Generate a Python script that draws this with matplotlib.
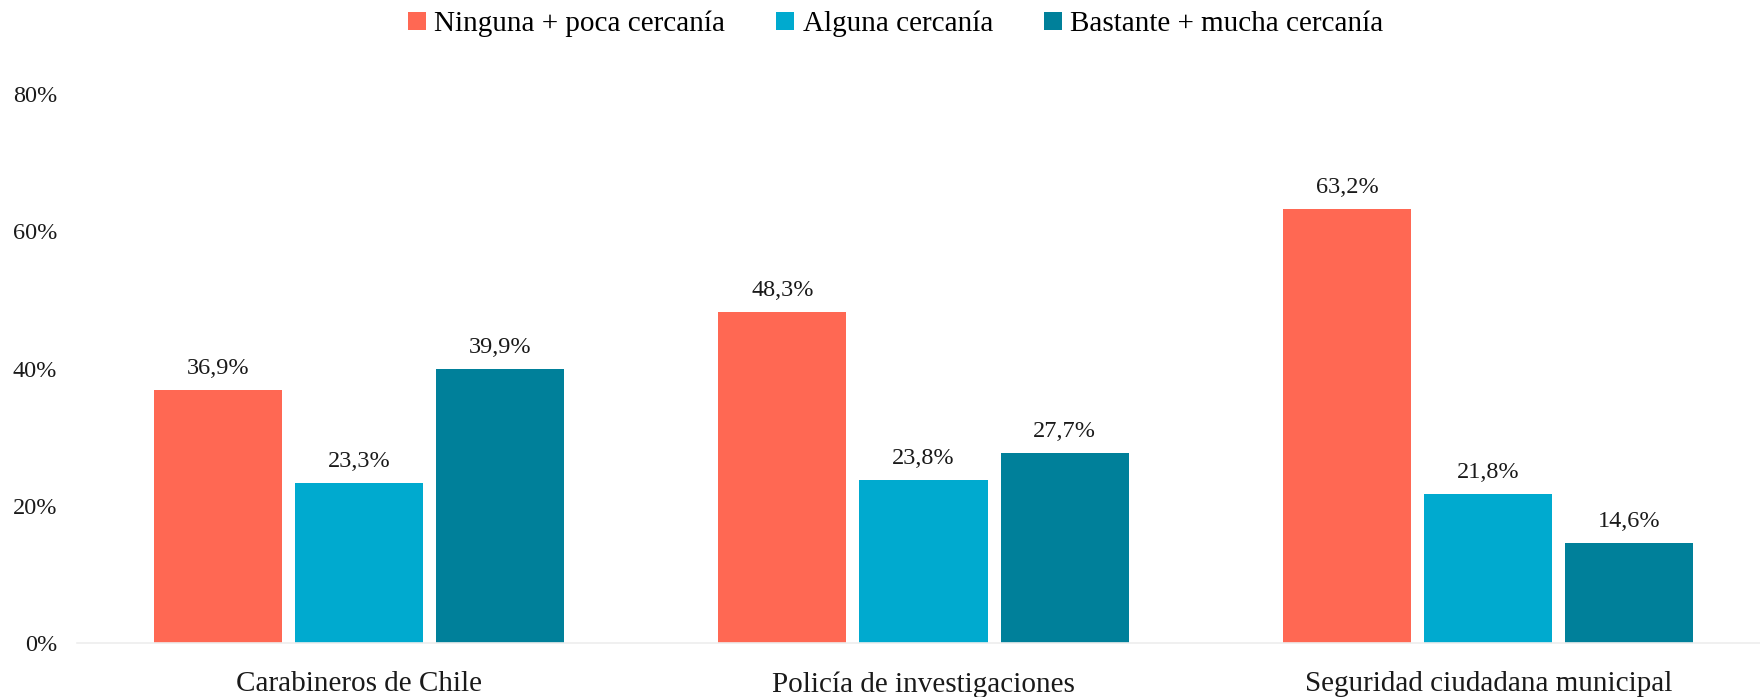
import numpy as np
import matplotlib
matplotlib.use('Agg')
import matplotlib.pyplot as plt
from matplotlib.ticker import FuncFormatter

categorias = ['Carabineros de Chile', 'Policía de investigaciones', 'Seguridad ciudadana municipal']
series = ['Ninguna + poca cercanía', 'Alguna cercanía', 'Bastante + mucha cercanía']
ninguna_poca = [36.9, 48.3, 63.2]
alguna = [23.3, 23.8, 21.8]
bastante_mucha = [39.9, 27.7, 14.6]
colores = ['#FF6853', '#00AACF', '#00809A']

plt.rcParams['font.family'] = ['Liberation Serif', 'DejaVu Serif']

fig = plt.figure(figsize=(17.6, 6.97), dpi=100)
ax = fig.add_axes([0.0435, 0.077, 0.9625, 0.788])

x = np.arange(len(categorias))
ancho = 0.227
paso = 0.25
datos = [ninguna_poca, alguna, bastante_mucha]

for i, (valores, nombre, color) in enumerate(zip(datos, series, colores)):
    barras = ax.bar(x + (i - 1) * paso, valores, ancho, color=color, label=nombre)
    for b, v in zip(barras, valores):
        ax.annotate(f'{v:.1f}%'.replace('.', ','),
                    (b.get_x() + b.get_width() / 2, v),
                    xytext=(0, 8), textcoords='offset points',
                    ha='center', va='bottom', fontsize=17.5, color='#1a1a1a')

ax.set_xlim(-0.5, 2.5)
ax.set_ylim(0, 80)
ax.set_yticks([0, 20, 40, 60, 80])
ax.yaxis.set_major_formatter(FuncFormatter(lambda v, p: f'{v:.0f}%'))
ax.set_xticks(x)
ax.set_xticklabels(categorias, fontsize=21)
ax.tick_params(axis='y', length=0, labelsize=17.5, pad=14, colors='#1a1a1a')
ax.tick_params(axis='x', length=0, pad=20, colors='#1a1a1a')

for s in ['top', 'right', 'left']:
    ax.spines[s].set_visible(False)
ax.spines['bottom'].set_color('#EEEEEE')
ax.spines['bottom'].set_linewidth(1.2)

fig.legend(loc='upper center', bbox_to_anchor=(0.509, 1.022), ncol=3, frameon=False,
           fontsize=21, handlelength=0.6, handleheight=0.6, handletextpad=0.3,
           columnspacing=1.75)

plt.savefig('out.png', dpi=100)
